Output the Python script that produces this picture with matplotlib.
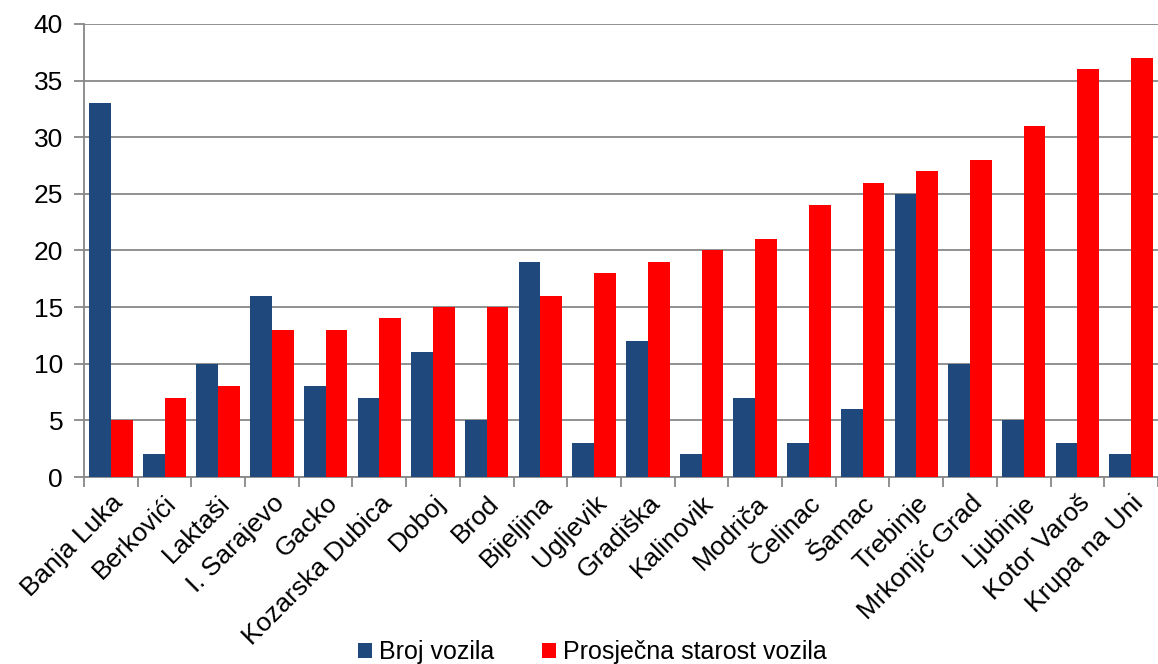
import numpy as np
from matplotlib import pyplot as plt

gradovi = ['Banja Luka', 'Berkovići', 'Laktaši', 'I. Sarajevo', 'Gacko',
           'Kozarska Dubica', 'Doboj', 'Brod', 'Bijeljina', 'Ugljevik',
           'Gradiška', 'Kalinovik', 'Modriča', 'Čelinac', 'Šamac',
           'Trebinje', 'Mrkonjić Grad', 'Ljubinje', 'Kotor Varoš', 'Krupa na Uni']
broj_vozila = [33, 2, 10, 16, 8, 7, 11, 5, 19, 3, 12, 2, 7, 3, 6, 25, 10, 5, 3, 2]
starost_vozila = [5, 7, 8, 13, 13, 14, 15, 15, 16, 18, 19, 20, 21, 24, 26, 27, 28, 31, 36, 37]


def main():
    plt.rcParams['font.family'] = ['Liberation Sans', 'DejaVu Sans']
    grey = '#888888'

    fig = plt.figure(figsize=(11.58, 6.64), dpi=100)
    ax = fig.add_axes([0.0725, 0.2816, 0.9275, 0.6823])

    x = np.arange(len(gradovi))
    w = 0.405
    ax.bar(x - w / 2, broj_vozila, w, color='#1f497d', label='Broj vozila', zorder=3)
    ax.bar(x + w / 2, starost_vozila, w, color='#ff0000', label='Prosječna starost vozila', zorder=3)

    ax.set_xlim(-0.5, len(gradovi) - 0.5)
    ax.set_ylim(0, 40)
    ax.set_yticks(range(0, 41, 5))
    ax.yaxis.grid(True, color=grey, linewidth=1.3, zorder=0)

    ax.set_xticks(x)
    ax.set_xticklabels(gradovi, rotation=45, ha='right', rotation_mode='anchor', fontsize=19)
    ax.set_xticks(np.arange(-0.5, len(gradovi), 1), minor=True)
    ax.tick_params(axis='x', which='major', length=0, pad=10)
    ax.tick_params(axis='x', which='minor', length=7, width=1.3, color=grey)
    ax.tick_params(axis='y', length=7, width=1.3, color=grey, labelsize=19, pad=8)

    for s in ['top', 'right']:
        ax.spines[s].set_visible(False)
    for s in ['left', 'bottom']:
        ax.spines[s].set_color(grey)
        ax.spines[s].set_linewidth(1.3)

    fig.legend(loc='center', bbox_to_anchor=(0.5117, 0.018), ncol=2, frameon=False,
               fontsize=18, handlelength=0.55, handleheight=0.55, handletextpad=0.3,
               columnspacing=1.9)

    fig.savefig('out.png', dpi=100)


if __name__ == "__main__":
    main()
